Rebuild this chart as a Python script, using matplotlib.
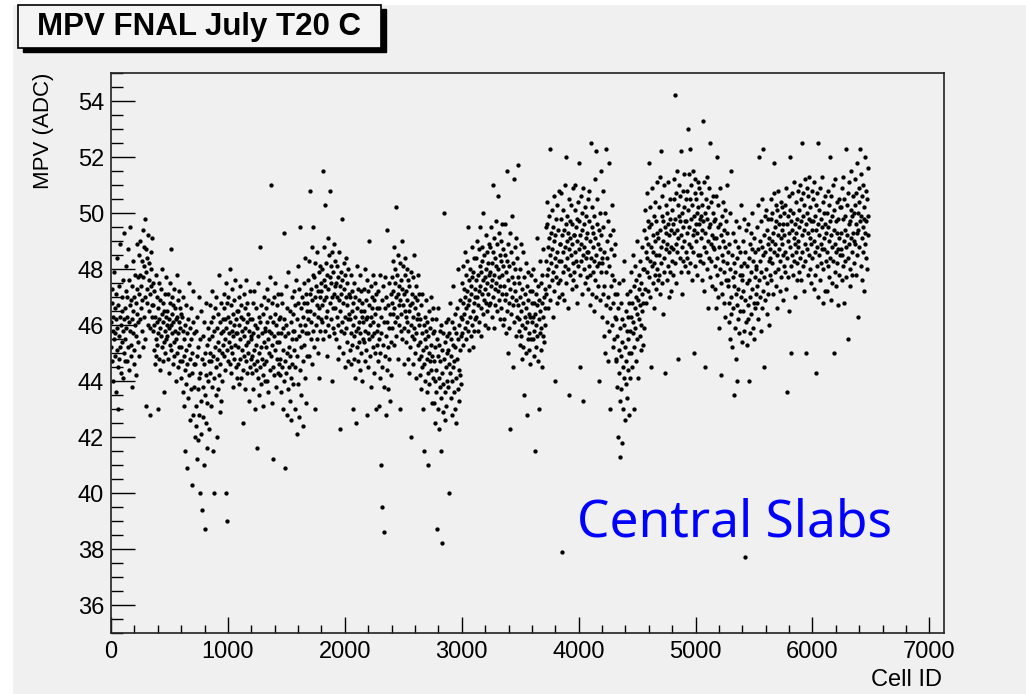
import matplotlib
matplotlib.use("Agg")
import matplotlib.pyplot as plt
import numpy as np
from matplotlib.patches import Rectangle
from matplotlib.ticker import MultipleLocator

# MPV per cell (ADC x10), one value every 3rd cell, 120 cells per line
mpv_cells_0000 = """
461 452 468 447 473 458 440 463 455 479 466 449 457 471 436 462 484 451 459 445 467 430 456 474 448 463 452 489 460 443 470 454 465 441 458 476 450 462 493 447
466 455 472 459 481 447 463 470 452 487 461 444 476 458 467 495 453 469 449 474 462 438 457 483 465 451 470 446 460 478 456 468 442 473 464 489 454 461 477 449
471 485 462 478 490 466 474 458 483 469 494 477 452 481 463 488 498 470 455 479 487 431 468 484 473 460 492 476 465 482 428 471 459 486 474 480 463 491 467 475
458 467 451 472 460 446 463 455 478 449 461 470 453 430 466 457 475 448 462 469 444 459 473 456 464 452 480 447 461 468 454 436 465 458 471 450 463 477 455 460
456 465 448 471 459 462 443 468 453 475 460 487 451 464 457 470 446 461 467 454 473 449 458 466 440 462 455 478 450 463 469 445 457 472 461 452 466 447 459 464
452 441 463 447 458 436 470 449 455 431 460 444 415 467 451 439 457 409 446 462 434 453 475 442 459 426 448 466 437 455 403 450 443 461 428 472 446 438 457 420
446 431 458 424 449 412 463 437 452 419 441 470 428 455 400 443 433 465 421 448 394 438 456 427 446 410 461 435 450 387 442 425 468 432 453 416 440 459 423 447
455 443 467 450 431 461 447 472 438 456 415 463 449 441 458 400 466 452 435 470 445 459 420 448 464 437 454 478 442 451 429 461 446 457 433 468 450 440 462 453
458 466 449 471 455 462 444 475 400 459 468 451 390 463 447 470 457 454 480 446 461 452 467 443 458 473 450 464 438 456 469 448 460 453 476 445 462 457 441 465
"""
mpv_cells_1080 = """
457 446 465 452 470 439 460 448 474 455 463 441 467 451 458 425 462 444 471 456 449 466 437 459 453 476 447 461 443 468 454 450 464 433 458 472 445 462 456 448
455 443 462 449 468 437 457 446 472 451 430 460 444 466 453 416 459 447 475 441 456 463 435 450 488 445 461 452 439 467 448 457 442 464 431 454 470 446 458 440
459 447 466 452 473 440 461 455 469 436 458 450 477 444 463 510 449 457 432 468 453 461 445 412 470 456 442 464 451 475 438 460 448 467 454 443 471 457 446 462
454 442 463 448 471 436 457 445 468 430 459 451 493 440 462 447 409 456 474 443 460 428 466 450 437 457 479 445 452 433 465 449 441 461 426 455 470 446 458 439
464 451 472 458 430 467 445 476 455 421 462 449 481 439 468 456 427 473 460 444 495 452 466 435 470 458 447 463 424 475 453 468 441 460 484 432 457 471 449 465
468 457 476 462 483 449 471 465 508 455 473 461 488 446 469 478 458 495 464 452 477 470 430 482 460 474 455 467 486 450 472 463 479 441 466 481 458 470 462 475
472 461 480 467 515 455 476 469 488 458 474 503 463 482 470 449 478 465 491 460 473 485 456 477 508 468 481 462 475 440 470 486 459 479 466 489 471 457 483 474
466 475 455 481 463 470 448 477 460 486 452 469 474 423 465 479 458 471 498 461 476 450 468 482 457 473 463 445 478 459 470 484 454 467 475 462 447 480 464 471
462 451 470 457 478 446 465 453 472 430 460 468 448 475 456 463 441 470 458 425 466 452 481 459 447 473 461 454 469 444 478 457 465 450 472 463 440 468 455 461
"""
mpv_cells_2160 = """
465 454 473 458 480 447 462 469 451 476 428 463 457 472 445 467 455 490 460 449 474 463 438 470 456 466 452 478 461 443 469 457 475 450 464 430 471 458 466 453
460 447 472 455 431 466 450 478 441 463 410 457 469 395 445 474 453 386 461 438 477 449 466 456 428 470 444 461 494 452 467 437 475 448 459 433 464 454 471 442
468 477 459 483 464 472 453 488 466 475 461 480 456 470 502 463 478 448 471 485 460 474 467 430 482 469 458 476 464 490 455 473 467 481 459 471 446 478 465 484
463 472 454 480 461 469 448 476 458 465 443 474 467 452 479 460 420 471 456 468 446 477 463 455 485 459 470 450 466 474 457 441 469 462 478 453 464 471 448 460
454 442 462 449 467 437 457 445 471 451 430 460 446 415 455 463 440 458 452 469 436 448 461 443 456 410 465 450 439 459 447 470 444 453 432 462 449 457 441 466
447 432 458 440 452 425 462 444 436 455 387 449 430 466 441 453 423 458 438 447 415 460 434 451 382 443 429 457 439 448 500 426 454 436 461 445 431 450 440 456
451 438 462 446 400 457 443 468 434 455 449 428 461 440 453 474 445 436 459 447 430 464 452 441 457 425 466 448 437 455 480 444 460 433 451 469 442 456 439 463
462 475 457 481 468 453 473 464 486 459 470 478 455 466 483 461 472 458 495 467 476 451 469 480 463 474 456 471 488 460 477 465 452 479 468 484 458 473 462 470
476 463 484 470 490 458 478 467 487 472 461 481 474 495 466 479 456 483 471 488 464 476 500 469 485 460 477 473 492 468 480 465 486 475 459 482 471 489 467 478
"""
mpv_cells_3240 = """
479 468 488 474 495 463 482 476 510 470 486 459 478 491 473 484 467 497 475 481 465 489 472 506 480 469 493 477 462 485 474 490 466 483 478 496 471 487 460 481
474 462 485 469 496 457 479 471 515 465 483 476 450 489 468 481 459 493 473 423 486 464 477 499 470 445 482 467 512 475 461 488 472 480 456 491 469 484 463 477
467 517 458 475 462 480 453 470 489 456 465 448 473 460 486 452 468 435 477 463 459 471 450 482 466 428 461 474 455 469 479 451 464 457 472 446 463 478 455 468
461 472 455 480 463 449 468 458 415 476 464 452 471 460 491 456 467 447 474 462 430 469 457 483 465 451 475 459 468 445 478 463 456 487 470 454 466 473 460 495
483 471 496 478 504 466 488 480 499 474 491 485 523 469 493 482 476 501 487 463 495 479 490 472 506 484 440 492 477 498 481 468 503 486 475 494 483 508 470 489
489 476 498 483 507 471 492 379 486 501 479 494 469 488 510 481 496 475 520 490 484 499 466 493 480 505 487 435 497 478 491 485 503 473 489 496 482 509 476 492
492 479 501 486 510 474 495 483 498 468 490 504 481 518 487 497 445 492 478 506 489 483 500 471 494 433 485 509 480 496 488 475 502 491 484 499 477 493 486 505
486 473 497 481 508 467 490 478 525 484 495 471 502 488 479 493 465 499 483 512 476 491 522 485 470 496 481 505 474 489 440 494 482 500 469 487 515 479 492 484
482 463 495 471 508 456 486 474 500 450 479 523 467 490 461 484 447 497 470 518 458 481 492 466 430 487 474 503 460 478 452 494 468 485 455 476 489 463 471 448
"""
mpv_cells_4320 = """
462 447 471 438 456 420 466 451 443 475 433 459 413 468 449 437 462 418 454 445 476 430 460 441 483 452 426 465 447 439 458 471 434 455 444 463 428 450 468 441
458 472 450 479 463 445 468 457 485 461 474 452 430 466 481 459 470 447 476 464 490 455 469 441 478 462 473 456 483 467 451 475 460 488 465 471 453 480 468 459
480 494 473 501 486 468 491 479 507 484 497 472 489 518 477 495 483 502 470 488 445 496 481 509 475 492 486 466 499 482 504 478 490 473 497 485 511 480 493 476
491 478 502 485 513 471 494 482 522 488 499 475 506 490 464 497 484 510 479 495 443 487 503 493 476 500 489 511 481 496 470 492 486 505 479 498 488 472 494 483
501 487 496 478 512 493 505 482 498 542 489 507 475 494 515 486 503 491 448 499 510 484 497 506 479 492 522 488 500 471 508 495 483 502 490 514 481 497 505 486
497 484 508 493 530 479 501 489 514 495 505 482 523 498 488 510 476 503 492 515 486 499 450 494 507 481 512 496 490 505 478 500 493 511 485 502 496 509 483 498
485 499 507 491 476 503 494 533 482 497 488 511 472 500 493 445 505 486 498 480 513 490 466 502 495 484 509 477 496 525 489 504 483 492 474 500 488 506 491 497
487 473 498 481 506 466 491 478 520 484 495 470 503 488 459 496 480 509 475 492 442 485 499 471 490 483 504 468 494 479 501 463 488 497 476 510 482 493 474 486
476 461 489 468 500 455 480 470 515 464 485 452 477 493 466 482 435 474 490 459 479 471 497 448 484 467 440 488 473 462 495 457 478 486 465 503 470 481 454 476
"""
mpv_cells_5400 = """
478 465 490 472 498 458 482 377 469 486 461 494 475 453 481 467 496 462 484 440 476 489 470 457 493 479 464 487 473 500 459 483 468 491 455 477 486 466 480 471
481 468 495 474 503 462 487 476 520 470 490 483 458 497 479 488 466 505 472 523 485 445 492 477 499 469 486 480 501 464 494 475 489 471 498 483 460 491 478 487
484 498 476 505 490 482 500 471 493 507 486 518 479 495 489 503 474 497 485 466 501 492 480 508 487 496 472 499 483 504 491 477 494 489 502 469 496 485 500 481
492 479 503 486 509 473 496 484 436 490 499 477 506 493 465 501 488 520 481 497 450 494 485 507 478 500 491 511 483 496 470 489 504 486 493 476 498 482 508 490
488 501 479 495 510 484 497 476 505 492 525 486 499 481 507 494 472 503 489 512 483 496 450 500 487 509 478 493 506 485 498 513 480 491 502 475 497 489 508 494
484 497 505 473 490 511 486 499 478 494 503 443 488 507 481 496 525 470 492 485 501 476 509 489 498 482 513 487 495 468 504 480 491 500 487 496 472 506 483 493
500 486 472 495 508 481 490 503 477 497 520 484 492 469 506 488 499 475 510 483 494 450 501 479 489 512 486 497 474 504 482 493 467 498 487 505 478 491 502 485
487 502 493 476 509 485 498 481 513 490 468 505 494 483 499 523 488 477 503 492 484 507 455 496 489 511 480 497 474 501 491 515 486 499 478 506 493 482 500 490
503 489 512 496 478 507 493 518 485 500 494 463 509 488 504 497 523 481 499 514 491 476 506 495 486 510 498 472 502 489 520 493 484 508 497 480 505 492 516 499
"""

blocks = [mpv_cells_0000, mpv_cells_1080, mpv_cells_2160,
          mpv_cells_3240, mpv_cells_4320, mpv_cells_5400]
mpv = np.concatenate([np.array(b.split(), dtype=float) for b in blocks]) / 10.0
cell_id = np.arange(len(mpv)) * 3

bg = "#f0f0f0"
rfont = "Liberation Sans"

fig = plt.figure(figsize=(10.26, 6.94), dpi=100, facecolor=bg)
# white strips at the screenshot edges
fig.patches.append(Rectangle((0, 0), 12 / 1026, 1, transform=fig.transFigure, color="white", zorder=0))
fig.patches.append(Rectangle((0, 1 - 4 / 694), 1, 4 / 694, transform=fig.transFigure, color="white", zorder=0))

ax = fig.add_axes([111 / 1026, 1 - 633 / 694, (944 - 111) / 1026, (633 - 73) / 694])
ax.set_facecolor(bg)
ax.plot(cell_id, mpv, "o", ms=3.1, mew=0, color="black")

ax.set_xlim(0, 7125)
ax.set_ylim(35, 55)
ax.xaxis.set_major_locator(MultipleLocator(1000))
ax.xaxis.set_minor_locator(MultipleLocator(200))
ax.yaxis.set_major_locator(MultipleLocator(2))
ax.yaxis.set_minor_locator(MultipleLocator(0.5))
ax.tick_params(axis="x", which="major", direction="in", length=11.5, width=1, pad=6)
ax.tick_params(axis="x", which="minor", direction="in", length=5.8, width=1)
ax.tick_params(axis="y", which="major", direction="in", length=17.5, width=1, pad=5)
ax.tick_params(axis="y", which="minor", direction="in", length=8.7, width=1)
for lab in ax.get_xticklabels() + ax.get_yticklabels():
    lab.set_fontfamily(rfont)
    lab.set_fontsize(17)
for s in ax.spines.values():
    s.set_color("#222222")
    s.set_linewidth(1.2)

fig.text(942 / 1026, 1 - 680 / 694, "Cell ID", ha="right", va="center", fontsize=17, family=rfont)
fig.text(44 / 1026, 1 - 73 / 694, "MPV (ADC)", ha="center", va="top", rotation=90, fontsize=16, family=rfont)

ax.text(0.56, 0.172, "Central Slabs", transform=ax.transAxes, color="#0000ff",
        fontsize=37, family="Noto Sans", ha="left", va="baseline")

# title box with shadow
fig.patches.append(Rectangle((23 / 1026, 1 - 52 / 694), 363 / 1026, 43 / 694,
                             transform=fig.transFigure, color="black", zorder=1))
fig.patches.append(Rectangle((18 / 1026, 1 - 48 / 694), 363 / 1026, 43 / 694,
                             transform=fig.transFigure, facecolor="#f4f4f4",
                             edgecolor="black", lw=1.2, zorder=2))
fig.text(199 / 1026, 1 - 27 / 694, "MPV FNAL July T20 C", ha="center", va="center",
         fontsize=22.5, fontweight="bold", family=rfont, zorder=3)

fig.savefig("out.png", dpi=100, facecolor=bg)
